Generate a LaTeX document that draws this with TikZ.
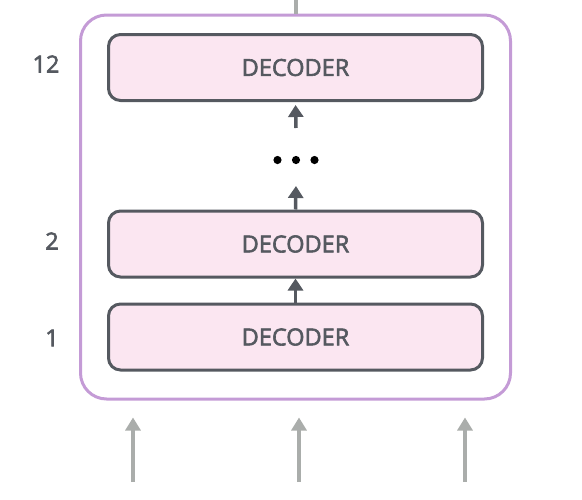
\documentclass[tikz,border=0pt]{standalone}
\usepackage{fontspec}
\setmainfont{Open Sans}[BoldFont={Open Sans}, BoldFeatures={FakeBold=2.5}]
\usepackage{tikz}
\usetikzlibrary{arrows, arrows.meta}
\usetikzlibrary{positioning}

\definecolor{stackpurple}{RGB}{196,155,214}
\definecolor{decoderpink}{RGB}{251,230,241}
\definecolor{decodergray}{RGB}{85,89,96}
\definecolor{inputgray}{RGB}{170,173,171}

\tikzset{
  decoder/.style={draw=decodergray, fill=decoderpink, line width=3pt,
    rounded corners=12pt, minimum width=374pt, minimum height=66pt,
    text=decodergray, font=\fontsize{23.5}{28}\selectfont\bfseries},
  layerno/.style={text=decodergray, font=\fontsize{23.5}{28}\selectfont\bfseries},
  stackbox/.style={draw=stackpurple, line width=3pt, rounded corners=26pt,
    minimum width=430pt, minimum height=384pt},
  uparrow/.style={decodergray, line width=3.5pt, -{Triangle[width=15pt,length=12pt]}},
  inarrow/.style={inputgray, line width=3.5pt, -{Triangle[width=15pt,length=13pt]}}
}

\begin{document}
\begin{tikzpicture}[x=1pt, y=-1pt]
  \useasboundingbox (0,0) rectangle (582,499);

  \node[stackbox] (stack) at (295.5,207) {};

  \node[decoder] (dectop) at (295.5,67.5) {DECODER};
  \node[decoder] (decmid) at (295.5,244) {DECODER};
  \node[decoder] (decbot) at (295.5,337) {DECODER};

  \node[layerno] (notop) at (46,64) {12};
  \node[layerno] (nomid) at (52,241) {2};
  \node[layerno] (nobot) at (52,338) {1};

  % the skipped layers
  \node (dots) at (296,160) {};
  \foreach \dx in {-18.5,0,18.5}
    \fill (296+\dx,160) circle (4.1pt);

  \coordinate (belowdots) at (296,186);
  \coordinate (abovedots) at (296,128);
  \draw[uparrow] (decbot.north) -- (decmid.south);
  \draw[uparrow] (decmid.north) -- (belowdots);
  \draw[uparrow, shorten >=3pt] (abovedots) -- (dectop.south);

  % output on top, inputs below
  \coordinate (out) at (295.5,0);
  \draw[inputgray, line width=4pt] (stack.north) -- (out);
  \foreach \x/\name in {133/inleft, 299/inmid, 465/inright} {
    \coordinate (\name) at (\x,482);
    \draw[inarrow, shorten >=17pt] (\name) -- (\name|-stack.south);
  }
\end{tikzpicture}
\end{document}
